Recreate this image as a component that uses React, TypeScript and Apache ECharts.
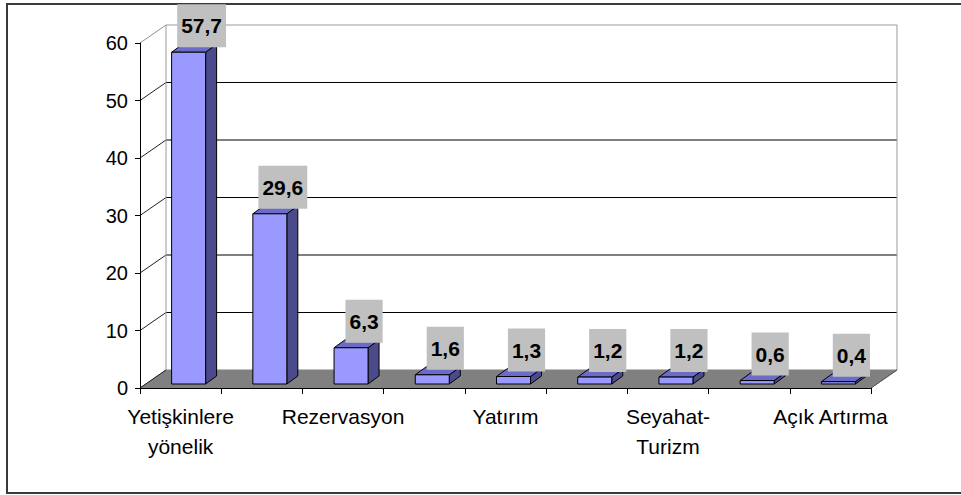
import React, { useEffect, useRef } from "react";
import * as echarts from "echarts";

const categories = [
  "Yetişkinlere\nyönelik",
  "",
  "Rezervasyon",
  "",
  "Yatırım",
  "",
  "Seyahat-\nTurizm",
  "",
  "Açık Artırma",
];
const values = [57.7, 29.6, 6.3, 1.6, 1.3, 1.2, 1.2, 0.6, 0.4];
const yTicks = [0, 10, 20, 30, 40, 50, 60];

const FONT = "'Liberation Sans', Arial, sans-serif";

export default function App() {
  const ref = useRef<HTMLDivElement>(null);
  useEffect(() => {
    if (!ref.current) return;
    const chart = echarts.init(ref.current, undefined, { renderer: "svg" });
    const DX = 26;
    const DY = -18;
    const yMax = yTicks[yTicks.length - 1];

    const option: any = {
      animation: false,
      backgroundColor: "#ffffff",
      graphic: [
        {
          type: "rect",
          shape: { x: 7, y: 4, width: 980, height: 489 },
          style: { fill: "none", stroke: "#3a3a3a", lineWidth: 2 },
          silent: true,
          z: 0,
        },
      ],
      grid: { left: 140, top: 43, width: 731, height: 345, containLabel: false },
      xAxis: {
        type: "category",
        data: categories,
        axisLine: { show: true, lineStyle: { color: "#000", width: 1 } },
        axisTick: { show: true, length: 6, lineStyle: { color: "#000" } },
        axisLabel: {
          interval: 0,
          color: "#000",
          fontSize: 21,
          lineHeight: 30,
          margin: 13,
          fontFamily: FONT,
        },
        splitLine: { show: false },
        z: 5,
      },
      yAxis: {
        type: "value",
        min: 0,
        max: yMax,
        interval: 10,
        axisLine: { show: true, lineStyle: { color: "#000", width: 1 } },
        axisTick: { show: true, length: 5, lineStyle: { color: "#000" } },
        axisLabel: { color: "#000", fontSize: 20, margin: 12, fontFamily: FONT },
        splitLine: { show: false },
        z: 5,
      },
      series: [
        {
          type: "custom",
          silent: true,
          z: 1,
          data: [[0, 0]],
          renderItem: (params: any, api: any) => {
            const bw = api.size([1, 0])[0];
            const c0 = api.coord([0, 0]);
            const cN = api.coord([categories.length - 1, 0]);
            const xl = c0[0] - bw / 2;
            const xr = cN[0] + bw / 2;
            const y0 = c0[1];
            const yT = api.coord([0, yMax])[1];
            const children: any[] = [];
            children.push({
              type: "polygon",
              shape: {
                points: [
                  [xl, y0],
                  [xr, y0],
                  [xr + DX, y0 + DY],
                  [xl + DX, y0 + DY],
                ],
              },
              style: { fill: "#808080", stroke: "#808080", lineWidth: 1 },
            });
            yTicks.forEach((t) => {
              const y = api.coord([0, t])[1];
              if (t > 0 && t < yMax) {
                children.push({
                  type: "line",
                  shape: { x1: xl + DX, y1: y + DY, x2: xr + DX, y2: y + DY },
                  style: { stroke: "#000", lineWidth: 1 },
                });
              }
              children.push({
                type: "line",
                shape: { x1: xl, y1: y, x2: xl + DX, y2: y + DY },
                style: { stroke: t === yMax ? "#909090" : "#222", lineWidth: 1 },
              });
            });
            // back wall outline
            children.push({
              type: "polyline",
              shape: {
                points: [
                  [xl + DX, y0 + DY],
                  [xl + DX, yT + DY],
                  [xr + DX, yT + DY],
                  [xr + DX, y0 + DY],
                ],
              },
              style: { fill: "none", stroke: "#9a9a9a", lineWidth: 1 },
            });
            children.push({
              type: "line",
              shape: { x1: xr, y1: y0, x2: xr + DX, y2: y0 + DY },
              style: { stroke: "#555", lineWidth: 1 },
            });
            return { type: "group", children };
          },
        },
        {
          type: "custom",
          z: 3,
          data: values.map((v, i) => [i, v]),
          renderItem: (params: any, api: any) => {
            const i = api.value(0);
            const v = api.value(1);
            const c = api.coord([i, v]);
            const b = api.coord([i, 0]);
            const cx = c[0] + 8;
            const x1 = cx - 17;
            const x2 = cx + 17;
            const yb = b[1] - 4;
            const yt = c[1] - 4;
            const ddx = 11;
            const ddy = -8;
            const stroke = { stroke: "#000", lineWidth: 1, lineJoin: "miter" };
            return {
              type: "group",
              children: [
                {
                  type: "polygon",
                  shape: {
                    points: [
                      [x2, yb],
                      [x2 + ddx, yb + ddy],
                      [x2 + ddx, yt + ddy],
                      [x2, yt],
                    ],
                  },
                  style: { fill: "#4b4b8c", ...stroke },
                },
                {
                  type: "polygon",
                  shape: {
                    points: [
                      [x1, yt],
                      [x2, yt],
                      [x2 + ddx, yt + ddy],
                      [x1 + ddx, yt + ddy],
                    ],
                  },
                  style: { fill: "#6b6bc8", ...stroke },
                },
                {
                  type: "rect",
                  shape: { x: x1, y: yt, width: x2 - x1, height: yb - yt },
                  style: { fill: "#9999ff", ...stroke },
                },
                {
                  type: "text",
                  x: cx + 13,
                  y: yt - 5,
                  style: {
                    text: v.toFixed(1).replace(".", ","),
                    align: "center",
                    verticalAlign: "bottom",
                    fill: "#000",
                    font: `bold 21px ${FONT}`,
                    backgroundColor: "#c0c0c0",
                    padding: [11, 4, 11, 4],
                  },
                  z2: 10,
                },
              ],
            };
          },
        },
      ],
    };
    chart.setOption(option);
    return () => chart.dispose();
  }, []);
  return (
    <div
      ref={ref}
      style={{ position: "fixed", left: 0, top: 0, width: 961, height: 495 }}
    />
  );
}
